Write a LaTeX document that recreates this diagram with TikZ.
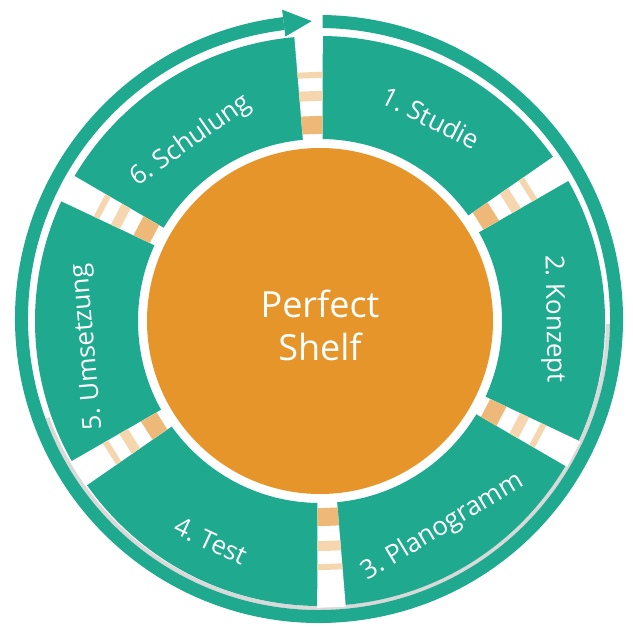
\documentclass[tikz,border=0pt]{standalone}
\usepackage{fontspec}
\setmainfont{Open Sans}
\frenchspacing
\definecolor{tealA}{HTML}{1FAA8F}
\definecolor{orangeA}{HTML}{E5952A}
\definecolor{stripeA}{HTML}{EEB978}
\definecolor{stripeB}{HTML}{F6D6AF}
\tikzset{
  seglabel/.style={text=white, font=\fontsize{26}{30}\selectfont, inner sep=0pt},
  corelabel/.style={text=white, font=\fontsize{36}{43}\selectfont, inner sep=0pt, align=center},
  ringline/.style={tealA, line width=13pt},
}
\begin{document}
\begin{tikzpicture}[x=1pt,y=1pt]
\useasboundingbox (0,0) rectangle (633,627);
\fill[white] (0,0) rectangle (633,627);
% outer ring with arrow
\begin{scope}[shift={(319,308)}]
  \draw[gray!30, line width=4pt] (200:289) arc[start angle=200, end angle=359, radius=289];
  \draw[ringline] (96.8:297.5) arc[start angle=96.8, end angle=449.3, radius=297.5];
  \fill[tealA] (96.8:311.5) -- (91.4:298) -- (96.8:284.5) -- cycle;
\end{scope}
% segments
\begin{scope}[shift={(320,306)}]
  \fill[tealA, even odd rule] (0,0) circle (285) (0,0) circle (182);
  \foreach \a in {32.3,92.3,152.3,212.3,272.3,332.3}{
    \begin{scope}[rotate=\a]
      \fill[white] (176,-9.6) -- (286.5,-14.3) -- (286.5,14.3) -- (176,9.6) -- cycle;
      \fill[stripeA] (187,-10) -- (205,-10.8) -- (205,10.8) -- (187,10) -- cycle;
      \fill[stripeB] (220,-11.4) -- (230,-11.9) -- (230,11.9) -- (220,11.4) -- cycle;
      \fill[stripeB] (243,-12.4) -- (249,-12.7) -- (249,12.7) -- (243,12.4) -- cycle;
    \end{scope}
  }
\end{scope}
% centre
\node (core) [circle, fill=orangeA, minimum size=346pt, inner sep=0pt] at (320,306) {};
\node (title) [corelabel] at (320,301.5) {Perfect\\Shelf};
% labels
\node (s1) [seglabel, rotate=-27] at (431,509) {1. Studie};
\node (s2) [seglabel, rotate=-89] at (553,308) {2. Konzept};
\node (s3) [seglabel, rotate=31] at (443,100) {3. Planogramm};
\node (s4) [seglabel, rotate=-25] at (211,86) {4. Test};
\node (s5) [seglabel, rotate=95] at (88,280) {5. Umsetzung};
\node (s6) [seglabel, rotate=35] at (191,486) {6. Schulung};
\end{tikzpicture}
\end{document}
